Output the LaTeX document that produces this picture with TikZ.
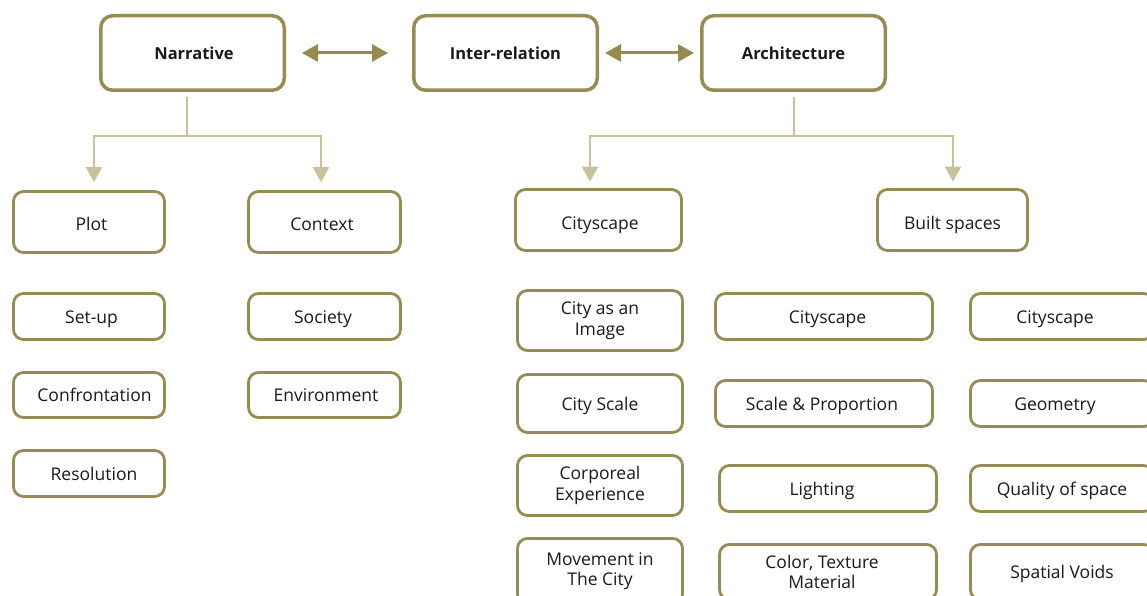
\documentclass[tikz,border=0pt]{standalone}
\usepackage{fontspec}
\setmainfont{Open Sans}
\usetikzlibrary{arrows.meta}
\definecolor{olive}{HTML}{978C56}
\definecolor{darkolive}{HTML}{968A50}
\definecolor{lightolive}{HTML}{C8C19C}
\definecolor{ink}{HTML}{1A1A1A}
\tikzset{
  x=1pt, y=-1pt,
  topbox/.style={draw=olive, line width=3.5pt, rounded corners=12pt, fill=white,
    minimum width=183.5pt, minimum height=74.5pt, inner sep=0pt, text=ink,
    text height=15pt, text depth=1pt,
    font=\fontsize{16.5}{20}\selectfont\bfseries},
  basebox/.style={draw=olive, line width=2.8pt, rounded corners=10pt, fill=white,
    inner sep=0pt, text=ink, align=center,
    font=\fontsize{17.5}{20.5}\selectfont},
  subbox/.style={basebox, text height=15pt, text depth=2pt},
  multibox/.style={basebox},
  midbox/.style={basebox, text height=18pt, text depth=1pt},
  dblarrow/.style={draw=darkolive, line width=3pt,
    {Triangle[length=16pt,width=17pt]}-{Triangle[length=16pt,width=17pt]}},
  treeline/.style={draw=lightolive, line width=2.5pt,
    -{Triangle[length=15pt,width=16pt]}},
  treestem/.style={draw=lightolive, line width=2.5pt},
}
\begin{document}
\begin{tikzpicture}
\useasboundingbox (0,0) rectangle (1147,596);
\clip (0,0) rectangle (1147,596);
\fill[white] (0,0) rectangle (1147,596);

% top row
\node[topbox] (nar) at (192.5,53) {\hspace*{3pt}Narrative};
\node[topbox] (inter) at (505.5,53) {Inter-relation};
\node[topbox] (arch) at (793.5,53) {Architecture};

\draw[dblarrow] ([xshift=16pt]nar.east) -- ([xshift=-24pt]inter.west);
\draw[dblarrow] ([xshift=6pt]inter.east) -- ([xshift=-6pt]arch.west);

% level 2
\node[midbox, minimum width=151pt, minimum height=61pt] (plot) at (89,222) {\hspace*{5pt}Plot};
\node[midbox, minimum width=152pt, minimum height=61pt] (context) at (324.5,222) {Context\hspace*{5pt}};
\node[midbox, minimum width=166pt, minimum height=61pt, text height=19pt, text depth=0pt] (city) at (598.5,220) {\hspace*{3pt}Cityscape};
\node[midbox, minimum width=150pt, minimum height=61pt, text height=19pt, text depth=0pt] (built) at (952.5,220) {Built spaces};

% tree connectors
\coordinate (nj) at ([xshift=-5.5pt,yshift=-44pt]nar.south);
\coordinate (aj) at ([xshift=0.5pt,yshift=-44pt]arch.south);
\draw[treestem] ([xshift=-5.5pt,yshift=-5pt]nar.south) -- (nj);
\draw[treeline] (nj) -| ([xshift=5pt,yshift=8pt]plot.north);
\draw[treeline] (nj) -| ([xshift=-3.5pt,yshift=8pt]context.north);
\draw[treestem] ([xshift=0.5pt,yshift=-5pt]arch.south) -- (aj);
\draw[treeline] (aj) -| ([xshift=-8.5pt,yshift=6.5pt]city.north);
\draw[treeline] (aj) -| ([xshift=0.5pt,yshift=6.5pt]built.north);

% narrative children
\node[subbox, minimum width=151pt, minimum height=46pt] (setup) at (89,316.5) {\hspace*{5pt}Set-up};
\node[subbox, minimum width=151pt, minimum height=45pt] (confr) at (89,395) {\hspace*{11pt}Confrontation};
\node[subbox, minimum width=151pt, minimum height=46pt] (resol) at (89,473.5) {\hspace*{10pt}Resolution};
\node[subbox, minimum width=152pt, minimum height=46pt] (society) at (324.5,316.5) {Society\hspace*{3pt}};
\node[subbox, minimum width=152pt, minimum height=45pt] (envir) at (324.5,395) {\hspace*{3pt}Environment};

% cityscape children
\node[multibox, minimum width=165pt, minimum height=60pt] (image) at (600,320.5) {City as an\\Image};
\node[subbox, minimum width=165pt, minimum height=58pt] (cscale) at (600,403.5) {City Scale};
\node[multibox, minimum width=165pt, minimum height=60pt] (corp) at (600,485.5) {Corporeal\\Experience};
\node[multibox, minimum width=165pt, minimum height=65.8pt] (move) at (600,571.3) {Movement in\\The City};

% built spaces children (middle)
\node[subbox, minimum width=217pt, minimum height=46pt] (bcity) at (824,316.5) {\hspace*{7pt}Cityscape};
\node[subbox, minimum width=217pt, minimum height=46pt] (scalep) at (824,403.5) {Scale \& Proportion\hspace*{4pt}};
\node[subbox, minimum width=217pt, minimum height=46pt] (light) at (828,488.5) {Lighting\hspace*{12pt}};
\node[multibox, minimum width=217pt, minimum height=55.1pt] (color) at (828,572) {Color, Texture\hspace*{12pt}\\Material\hspace*{12pt}};

% built spaces children (right)
\node[subbox, minimum width=183.2pt, minimum height=46pt] (rcity) at (1062,316.5) {Cityscape\hspace*{14pt}};
\node[subbox, minimum width=183.2pt, minimum height=46pt] (geom) at (1062,403.5) {Geometry\hspace*{14pt}};
\node[subbox, minimum width=183.2pt, minimum height=46pt] (qual) at (1062,488.5) {Quality of space};
\node[subbox, minimum width=183.2pt, minimum height=55.1pt] (voids) at (1062,572) {Spatial Voids};
\end{tikzpicture}
\end{document}
